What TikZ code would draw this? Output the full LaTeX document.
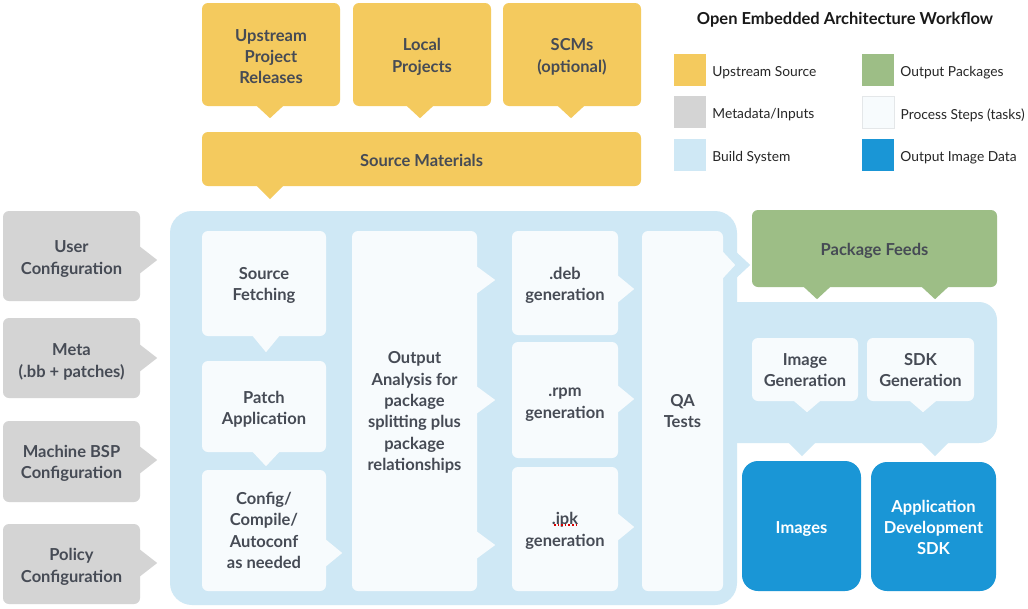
\documentclass[tikz,border=0pt]{standalone}
\usepackage{fontspec}
\setmainfont{Lato}
\usetikzlibrary{calc}
\definecolor{yel}{HTML}{F4CA5E}
\definecolor{gry}{HTML}{D4D4D4}
\definecolor{lblue}{HTML}{CFE8F5}
\definecolor{wbox}{HTML}{F7FBFD}
\definecolor{wline}{HTML}{E4E7E9}
\definecolor{grn}{HTML}{9DBE86}
\definecolor{dblue}{HTML}{1A96D6}
\definecolor{txt}{HTML}{464B55}
\newcommand\ptrD[4]{\fill[#4] ($(#1.south)+(#2,0)+(-14,-1)$) -- ($(#1.south)+(#2,#3)$) -- ($(#1.south)+(#2,0)+(14,-1)$) -- cycle;}
\newcommand\ptrR[4]{\fill[#4] ($(#1.east)+(0,#2)+(-1,-14)$) -- ($(#1.east)+(#3,#2)$) -- ($(#1.east)+(0,#2)+(-1,14)$) -- cycle;}
\newcommand\up[1]{\rule{0pt}{#1pt}}
\begin{document}
\begin{tikzpicture}[x=1pt,y=-1pt,
  box/.style={rectangle, rounded corners=6pt, inner sep=0pt, align=center,
    font=\bfseries\fontsize{16.5}{21.4}\selectfont, text=txt},
  sz/.style 2 args={minimum width=#1pt, minimum height=#2pt},
  ybox/.style={box, fill=yel},
  gbox/.style={box, fill=gry},
  wb/.style={box, fill=wbox},
  grbox/.style={box, fill=grn},
  bbox/.style={box, fill=dblue, text=white, rounded corners=16pt},
  region/.style={rectangle, fill=lblue, inner sep=0pt},
  swatch/.style={rectangle, inner sep=0pt, minimum size=32pt},
  leg/.style={anchor=west, inner sep=0pt, text=black!85, font=\fontsize{13.8}{16}\selectfont},
]
\useasboundingbox (0,0) rectangle (1028,608);
\fill[white] (0,0) rectangle (1028,608);

% title and legend
\node[inner sep=0pt, text=black!90, font=\bfseries\fontsize{16.5}{19}\selectfont] (title) at (845,20) {Open Embedded Architecture Workflow};
\node[swatch, fill=yel] (s1) at (690,70) {};
\node[swatch, fill=gry] (s2) at (690,112) {};
\node[swatch, fill=lblue] (s3) at (690,155) {};
\node[swatch, fill=grn] (s4) at (878,70) {};
\node[swatch, fill=wbox, draw=wline, line width=0.8pt] (s5) at (878,112) {};
\node[swatch, fill=dblue] (s6) at (878,155) {};
\node[leg] (l1) at ($(s1.east)+(6,3)$) {Upstream Source};
\node[leg] (l2) at ($(s2.east)+(6,3)$) {Metadata/Inputs};
\node[leg] (l3) at ($(s3.east)+(6,3)$) {Build System};
\node[leg] (l4) at ($(s4.east)+(6,3)$) {Output Packages};
\node[leg] (l5) at ($(s5.east)+(6,3)$) {Process Steps (tasks)};
\node[leg] (l6) at ($(s6.east)+(6,3)$) {Output Image Data};

% build system region
\node[region, rounded corners=18pt, sz={297}{141}] (bsx) at (848.5,372.5) {};
\node[region, rounded corners=22pt, sz={567}{394}] (bs) at (453.5,408) {};
\fill[lblue] ($(bs.east)+(-2,-157)$) -- ($(bs.east)+(13,-143)$) -- ($(bs.east)+(-2,-129)$) -- cycle;
\ptrD{bsx}{-46.5}{13}{lblue}
\ptrD{bsx}{86.5}{13}{lblue}

% upstream sources
\node[ybox, sz={138}{103}] (up) at (271,54.5) {\up{16}Upstream\\Project\\Releases};
\node[ybox, sz={138}{103}] (loc) at (422,54.5) {\up{17}Local\\Projects};
\node[ybox, sz={138}{103}] (scm) at (572,54.5) {\up{17}SCMs\\(optional)};
\node[ybox, sz={439}{54}] (src) at (421.5,159) {\up{15}Source Materials};
\ptrD{up}{-1}{12}{yel}
\ptrD{loc}{-2}{12}{yel}
\ptrD{scm}{-1}{12}{yel}
\ptrD{src}{-151.5}{13}{yel}

% metadata inputs
\node[gbox, sz={137}{90}] (user) at (71.5,256) {\up{18}User\\Configuration};
\node[gbox, sz={137}{80}] (meta) at (71.5,358) {\up{20}Meta\\(.bb + patches)};
\node[gbox, sz={137}{81}] (bsp) at (71.5,461.5) {\up{16}Machine BSP\\Configuration};
\node[gbox, sz={137}{80}] (pol) at (71.5,564) {\up{18}Policy\\Configuration};
\ptrR{user}{4}{17}{gry}
\ptrR{meta}{0}{17}{gry}
\ptrR{bsp}{-1.5}{17}{gry}
\ptrR{pol}{-1}{17}{gry}

% process steps
\node[wb, sz={124}{105}] (sf) at (264,283.5) {\up{16}Source\\Fetching};
\node[wb, sz={124}{91}] (pa) at (264,406.5) {\up{18}Patch\\Application};
\node[wb, sz={124}{121}] (cc) at (264,530.5) {Config/\\Compile/\\Autoconf\\as needed};
\node[wb, sz={125}{360}] (oa) at (414.5,411) {\up{15}Output\\Analysis for\\package\\splitting plus\\package\\relationships};
\node[wb, sz={106}{104}] (deb) at (565,283) {\up{17}.deb\\generation};
\node[wb, sz={106}{116}] (rpm) at (565,400) {\up{18}.rpm\\generation};
\node[wb, sz={106}{124}] (ipk) at (565,529) {\up{16}.ipk\\generation};
\node[wb, sz={81}{360}] (qa) at (682.5,411) {QA\\Tests};
\ptrD{sf}{2}{16}{wbox}
\ptrD{pa}{2}{14}{wbox}
\ptrR{cc}{22.5}{16}{wbox}
\ptrR{oa}{-131}{18}{wbox}
\ptrR{oa}{-11}{18}{wbox}
\ptrR{oa}{134}{18}{wbox}
\ptrR{deb}{6}{16}{wbox}
\ptrR{rpm}{-1}{16}{wbox}
\ptrR{ipk}{-2}{16}{wbox}
\ptrR{qa}{-146}{12}{wbox}
\draw[red!85!black, line width=1.6pt, dash pattern=on 1.6pt off 2pt] ($(ipk.center)+(-11,-4)$) -- ($(ipk.center)+(11,-4)$);

% output packages
\node[grbox, sz={245}{77}] (pkg) at (874.5,248.5) {\up{17}Package Feeds};
\ptrD{pkg}{-57.5}{12}{grn}
\ptrD{pkg}{60.5}{12}{grn}

% image / sdk generation
\node[wb, sz={106}{63}] (ig) at (805,369.5) {\up{13}Image\\Generation};
\node[wb, sz={107}{63}] (sdkg) at (920.5,369.5) {\up{13}SDK\\Generation};
\ptrD{ig}{2}{11}{wbox}
\ptrD{sdkg}{2.5}{11}{wbox}

% output image data
\node[bbox, sz={119}{130}] (img) at (801.5,526) {\up{17}Images};
\node[bbox, sz={125}{129}] (sdk) at (933.5,526.5) {\up{14}Application\\Development\\SDK};
\end{tikzpicture}
\end{document}
